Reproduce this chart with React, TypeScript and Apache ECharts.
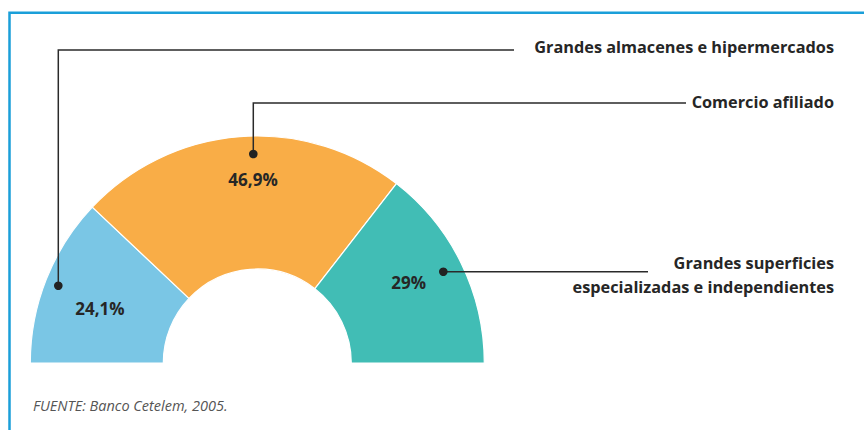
import React, { useEffect, useRef } from "react";
import * as echarts from "echarts";

const categories = [
  "Grandes almacenes e hipermercados",
  "Comercio afiliado",
  "Grandes superficies especializadas e independientes",
];
const values = [24.1, 46.9, 29];
const colors = ["#7ac6e5", "#f9ad47", "#41bdb5"];
const calloutLabels = [
  "Grandes almacenes e hipermercados",
  "Comercio afiliado",
  "Grandes superficies\nespecializadas e independientes",
];
const sourceText = "FUENTE: Banco Cetelem, 2005.";

const labelOffsets = [
  [-5.4, 6],
  [8.3, -20],
  [4.6, -8.5],
];

const fmt = (v: number) => String(v).replace(".", ",") + "%";

export default function App() {
  const ref = useRef<HTMLDivElement>(null);
  useEffect(() => {
    document.body.style.margin = "0";
    const chart = echarts.init(ref.current!, null, { renderer: "svg" });
    const ink = "#262626";
    const lineStyle = { stroke: "#2a2a2a", lineWidth: 1.5, fill: null as any };
    const font = "bold 16.3px 'Open Sans'";
    chart.setOption({
      animation: false,
      backgroundColor: "#fff",
      series: [
        {
          type: "pie",
          silent: true,
          z: 1,
          center: [257.3, 363],
          radius: [94, 227],
          startAngle: 180,
          endAngle: 0,
          clockwise: true,
          itemStyle: { borderColor: "#fff", borderWidth: 1.2 },
          label: {
            show: true,
            position: "inside",
            formatter: (p: any) => fmt(p.value),
            color: ink,
            fontFamily: "Open Sans",
            fontWeight: "bold",
            fontSize: 17,
          },
          labelLine: { show: false },
          labelLayout: (p: any) => {
            const o = labelOffsets[p.dataIndex];
            return { dx: o[0], dy: o[1] };
          },
          data: categories.map((c, i) => ({
            name: c,
            value: values[i],
            itemStyle: { color: colors[i] },
          })),
        },
      ],
      graphic: {
        elements: [
          {
            type: "polyline",
            silent: true,
            z: 100,
            shape: { points: [[9.5, 430], [9.5, 12.8], [864, 12.8]] },
            style: { stroke: "#1a9fd9", lineWidth: 2.5, fill: null },
          },
          {
            type: "polyline",
            silent: true,
            z: 100,
            shape: { points: [[58.3, 285.7], [58.3, 50], [514, 50]] },
            style: lineStyle,
          },
          {
            type: "polyline",
            silent: true,
            z: 100,
            shape: { points: [[253.3, 154], [253.3, 103], [686, 103]] },
            style: lineStyle,
          },
          {
            type: "polyline",
            silent: true,
            z: 100,
            shape: { points: [[443.3, 271.7], [648, 271.7]] },
            style: lineStyle,
          },
          { type: "circle", silent: true, z: 101, shape: { cx: 58.3, cy: 285.7, r: 4.3 }, style: { fill: "#222" } },
          { type: "circle", silent: true, z: 101, shape: { cx: 253.3, cy: 154, r: 4.3 }, style: { fill: "#222" } },
          { type: "circle", silent: true, z: 101, shape: { cx: 443.3, cy: 271.7, r: 4.3 }, style: { fill: "#222" } },
          {
            type: "text",
            silent: true,
            z: 100,
            x: 834,
            y: 47,
            style: {
              text: calloutLabels[0],
              align: "right",
              verticalAlign: "middle",
              fill: ink,
              font,
            },
          },
          {
            type: "text",
            silent: true,
            z: 100,
            x: 834,
            y: 101.5,
            style: {
              text: calloutLabels[1],
              align: "right",
              verticalAlign: "middle",
              fill: ink,
              font,
            },
          },
          {
            type: "text",
            silent: true,
            z: 100,
            x: 834,
            y: 275,
            style: {
              text: calloutLabels[2],
              align: "right",
              verticalAlign: "middle",
              fill: ink,
              font,
              lineHeight: 23.5,
            },
          },
          {
            type: "text",
            silent: true,
            z: 100,
            x: 33,
            y: 405,
            style: {
              text: sourceText,
              align: "left",
              verticalAlign: "middle",
              fill: "#555",
              font: "italic 14.5px 'Open Sans'",
            },
          },
        ],
      },
    });
    return () => chart.dispose();
  }, []);
  return <div ref={ref} style={{ width: 864, height: 430 }} />;
}
